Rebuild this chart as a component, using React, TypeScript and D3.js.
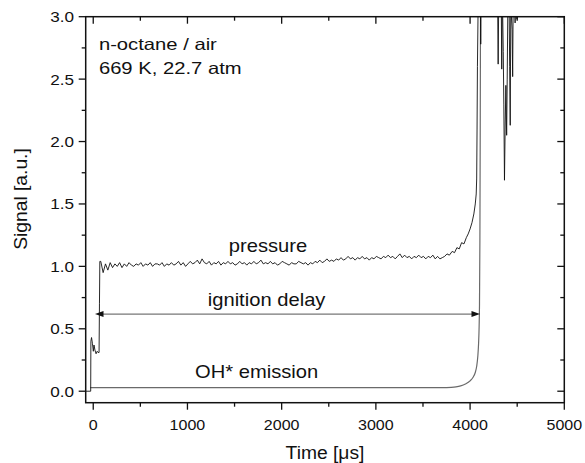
import React from 'react';
import * as d3 from 'd3';

const W = 585;
const H = 463;

const xTicks = [0, 1000, 2000, 3000, 4000, 5000];
const xMinor = [500, 1500, 2500, 3500, 4500];
const yTicks = [0, 0.5, 1.0, 1.5, 2.0, 2.5, 3.0];
const yMinor = [0.25, 0.75, 1.25, 1.75, 2.25, 2.75];

// pressure: before and at the shock arrival
const pStartT = [-80, -27, -25, -18, -8, 1, 8, 18, 30, 42, 52, 62, 66, 70];
const pStartV = [0, 0, 0.40, 0.43, 0.38, 0.32, 0.37, 0.33, 0.30, 0.32, 0.31, 0.31, 0.7, 1.04];

// pressure plateau, sampled every 25 us from 80 us
const pPlateauStart = 80;
const pPlateauStep = 25;
const pPlateauV = [
  1.04, 0.95, 1.02, 0.97, 1.03, 0.99, 1.02, 1.00, 1.03, 0.99,
  1.02, 1.00, 1.03, 1.01, 1.00, 1.02, 1.01, 1.03, 1.00, 1.02,
  1.01, 1.03, 1.00, 1.02, 1.02, 1.01, 1.03, 1.00, 1.02, 1.01,
  1.03, 1.01, 1.02, 1.04, 1.01, 1.03, 1.00, 1.02, 1.04, 1.02,
  1.03, 1.05, 1.02, 1.06, 1.03, 1.02, 1.04, 1.01, 1.03, 1.02,
  1.04, 1.01, 1.03, 1.02, 1.04, 1.02, 1.03, 1.01, 1.02, 1.04,
  1.02, 1.03, 1.01, 1.03, 1.02, 1.04, 1.02, 1.03, 1.05, 1.02,
  1.03, 1.02, 1.04, 1.02, 1.03, 1.01, 1.02, 1.04, 1.03, 1.02,
  1.01, 1.03, 1.02, 1.02, 1.04, 1.03, 1.02, 1.03, 1.01, 1.03,
  1.02, 1.04, 1.03, 1.05, 1.03, 1.04, 1.06, 1.04, 1.05, 1.04,
  1.06, 1.05, 1.07, 1.05, 1.06, 1.08, 1.06, 1.07, 1.05, 1.07,
  1.06, 1.08, 1.06, 1.07, 1.05, 1.07, 1.06, 1.08, 1.07, 1.06,
  1.08, 1.07, 1.09, 1.07, 1.08, 1.06, 1.08, 1.10, 1.07, 1.09,
  1.07, 1.08, 1.06, 1.08, 1.07, 1.09, 1.07, 1.08, 1.06, 1.08,
  1.07, 1.09, 1.06, 1.08, 1.06, 1.07, 1.08, 1.10, 1.09,
];

// pressure: pre-ignition rise and ignition spikes
const pRiseT = [
  3810, 3835, 3860, 3885, 3910, 3935, 3960, 3980, 4000, 4020,
  4040, 4055, 4065, 4070, 4074, 4078, 4084, 4095, 4108, 4113,
  4118, 4150, 4200, 4250, 4290, 4298, 4306, 4330, 4336, 4342,
  4352, 4358, 4365, 4372, 4380, 4388, 4394, 4402, 4412, 4420,
  4426, 4432, 4446, 4452, 4458, 4474, 4478, 4484, 4494, 4498,
  4504, 4600, 5000,
];
const pRiseV = [
  1.12, 1.11, 1.15, 1.14, 1.19, 1.18, 1.23, 1.26, 1.30, 1.35,
  1.42, 1.50, 1.58, 1.7, 2.1, 2.6, 3.0, 3.3, 3.2, 2.78,
  3.3, 3.6, 3.5, 3.4, 3.3, 2.62, 3.3, 3.2, 2.58, 3.2,
  2.72, 2.3, 1.69, 2.1, 2.45, 2.05, 2.5, 3.2, 3.3, 2.6,
  2.13, 3.1, 2.9, 2.52, 3.2, 3.1, 2.95, 3.3, 3.1, 2.98,
  3.4, 3.5, 3.5,
];

// OH* emission
const ohT = [-32, 3700, 3800, 3850, 3900, 3950, 4000, 4030, 4055, 4070, 4082, 4090, 4096, 4100, 4104, 4108, 4112, 4130, 5000];
const ohV = [0.028, 0.028, 0.031, 0.035, 0.043, 0.058, 0.083, 0.11, 0.15, 0.20, 0.28, 0.38, 0.52, 0.7, 1.2, 2.2, 3.3, 3.6, 3.6];

// ignition delay arrow
const delayStart = 19;
const delayEnd = 4105;
const delayLevel = 0.618;

const margin = { left: 85.7, right: W - 564.3, top: 16.7, bottom: H - 402.7 };

const FONT = '"Liberation Sans", Arial, sans-serif';

function T({ x, y, children, size, anchor = 'start', sx = 1.07, rotate = 0, fill = '#111' }: any) {
  return (
    <text
      transform={`translate(${x},${y}) rotate(${rotate}) scale(${sx},1)`}
      fontSize={size}
      fontFamily={FONT}
      textAnchor={anchor}
      fill={fill}
    >
      {children}
    </text>
  );
}

export default function App() {
  const x = d3.scaleLinear().domain([-80, 5000]).range([margin.left, W - margin.right]);
  const y = d3.scaleLinear().domain([-0.092, 3.0]).range([H - margin.bottom, margin.top]);

  const pressure: [number, number][] = [
    ...pStartT.map((t, i) => [t, pStartV[i]] as [number, number]),
    ...pPlateauV.map((v, i) => [pPlateauStart + i * pPlateauStep, v] as [number, number]),
    ...pRiseT.map((t, i) => [t, pRiseV[i]] as [number, number]),
  ];
  const oh: [number, number][] = ohT.map((t, i) => [t, ohV[i]]);

  const line = d3.line<[number, number]>().x(d => x(d[0])).y(d => y(d[1]));
  const ohLine = d3.line<[number, number]>().x(d => x(d[0])).y(d => y(d[1])).curve(d3.curveMonotoneX);

  const x0 = x.range()[0], x1 = x.range()[1];
  const y0 = y.range()[0], y1 = y.range()[1];
  const major = 7, minor = 4;
  const ay = y(delayLevel);
  const ax0 = x(delayStart), ax1 = x(delayEnd);
  const ah = 8.5, aw = 3;

  return (
    <svg width={W} height={H} style={{ position: 'absolute', left: 0, top: 0, background: '#fff' }}>
      <defs>
        <clipPath id="plot">
          <rect x={x0} y={y1} width={x1 - x0} height={y0 - y1} />
        </clipPath>
      </defs>
      <rect x={0} y={0} width={W} height={H} fill="#fff" />

      <g clipPath="url(#plot)">
        <path d={ohLine(oh) || ''} fill="none" stroke="#6a6a6a" strokeWidth={1.2} />
        <path d={line(pressure) || ''} fill="none" stroke="#111" strokeWidth={0.9} strokeLinejoin="round" />
      </g>

      {/* ignition delay arrow */}
      <line x1={ax0 + ah - 1} x2={ax1 - ah + 1} y1={ay} y2={ay} stroke="#777" strokeWidth={1.3} />
      <path d={`M${ax0},${ay} L${ax0 + ah},${ay - aw} L${ax0 + ah},${ay + aw} Z`} fill="#111" />
      <path d={`M${ax1},${ay} L${ax1 - ah},${ay - aw} L${ax1 - ah},${ay + aw} Z`} fill="#111" />

      {/* frame */}
      <rect x={x0} y={y1} width={x1 - x0} height={y0 - y1} fill="none" stroke="#111" strokeWidth={1.5} />

      {/* x ticks */}
      {xTicks.map(t => (
        <g key={'xt' + t}>
          <line x1={x(t)} x2={x(t)} y1={y0} y2={y0 + major} stroke="#111" strokeWidth={1.3} />
          <line x1={x(t)} x2={x(t)} y1={y1} y2={y1 + major} stroke="#111" strokeWidth={1.3} />
          <T x={x(t)} y={430} size={15} anchor="middle">{d3.format('d')(t)}</T>
        </g>
      ))}
      {xMinor.map(t => (
        <g key={'xm' + t}>
          <line x1={x(t)} x2={x(t)} y1={y0} y2={y0 + minor} stroke="#111" strokeWidth={1.3} />
          <line x1={x(t)} x2={x(t)} y1={y1} y2={y1 + minor} stroke="#111" strokeWidth={1.3} />
        </g>
      ))}

      {/* y ticks */}
      {yTicks.map(v => (
        <g key={'yt' + v}>
          <line x1={x0 - major} x2={x0} y1={y(v)} y2={y(v)} stroke="#111" strokeWidth={1.3} />
          <line x1={x1 - major} x2={x1} y1={y(v)} y2={y(v)} stroke="#111" strokeWidth={1.3} />
          <T x={74} y={y(v) + 5.4} size={15.3} sx={1.12} anchor="end">{d3.format('.1f')(v)}</T>
        </g>
      ))}
      {yMinor.map(v => (
        <g key={'ym' + v}>
          <line x1={x0 - minor} x2={x0} y1={y(v)} y2={y(v)} stroke="#111" strokeWidth={1.3} />
          <line x1={x1 - minor} x2={x1} y1={y(v)} y2={y(v)} stroke="#111" strokeWidth={1.3} />
        </g>
      ))}

      {/* axis titles */}
      <T x={(x0 + x1) / 2} y={459} size={18} anchor="middle">Time [μs]</T>
      <T x={27} y={199} size={18} anchor="middle" rotate={-90}>Signal [a.u.]</T>

      {/* annotations */}
      <T x={x(60)} y={y(2.733)} size={16.3} sx={1.24}>n-octane / air</T>
      <T x={x(60)} y={y(2.54)} size={16.3} sx={1.24}>669 K, 22.7 atm</T>
      <T x={x(1855)} y={y(1.117)} size={18} sx={1.12} anchor="middle">pressure</T>
      <T x={x(1840)} y={y(0.68)} size={18} sx={1.12} anchor="middle">ignition delay</T>
      <T x={x(1734)} y={y(0.103)} size={18} sx={1.12} anchor="middle">OH* emission</T>
    </svg>
  );
}
